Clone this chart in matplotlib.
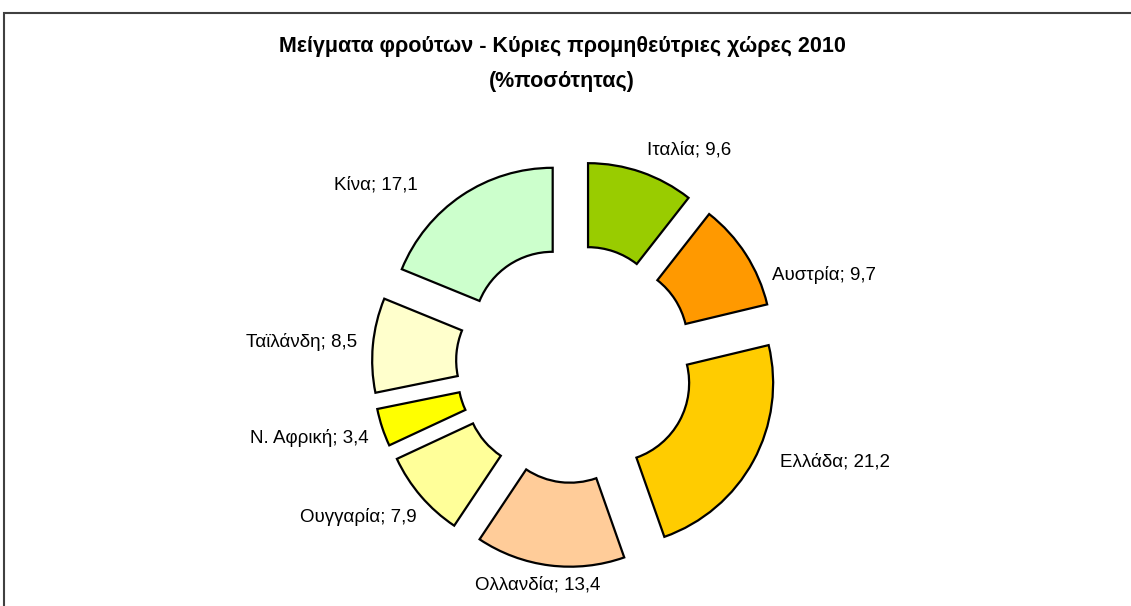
import numpy as np
import matplotlib.pyplot as plt
from matplotlib.patches import Rectangle

plt.rcParams['font.family'] = ['Liberation Sans', 'DejaVu Sans']

# δεδομένα
countries = ['Ιταλία', 'Αυστρία', 'Ελλάδα', 'Ολλανδία', 'Ουγγαρία',
             'Ν. Αφρική', 'Ταϊλάνδη', 'Κίνα']
shares = [9.6, 9.7, 21.2, 13.4, 7.9, 3.4, 8.5, 17.1]
colors = ['#99CC00', '#FF9900', '#FFCC00', '#FFCC99', '#FFFF99',
          '#FFFF00', '#FFFFCC', '#CCFFCC']

title = 'Μείγματα φρούτων - Κύριες προμηθεύτριες χώρες 2010\n(%ποσότητας)'

# διάταξη σε pixel
W, H = 1131, 606
cx, cy, R = 575, 364, 163
# θέσεις ετικετών (pixel) και στοίχιση
label_pos = [(647, 150, 'left'), (772, 275, 'left'), (780, 462, 'left'),
             (538, 585, 'center'), (417, 517, 'right'), (369, 438, 'right'),
             (357, 342, 'right'), (418, 185, 'right')]

fig = plt.figure(figsize=(W / 100, H / 100), dpi=100)
ax = fig.add_axes([0, 0, 1, 1])

ax.pie(shares, colors=colors, startangle=90, counterclock=False,
       explode=[40 / R] * len(shares), radius=1.0,
       wedgeprops=dict(width=84 / R, edgecolor='black', linewidth=1.6))

ax.set_xlim((0 - cx) / R, (W - cx) / R)
ax.set_ylim((cy - H) / R, cy / R)
ax.axis('off')

for name, v, (px, py, ha) in zip(countries, shares, label_pos):
    txt = name + '; ' + f'{v:.1f}'.replace('.', ',')
    ax.text((px - cx) / R, (cy - py) / R, txt, ha=ha, va='center', fontsize=13.5)

fig.text(562 / W, 1 - 64 / H, title, ha='center', va='center',
         fontsize=15.5, fontweight='bold', linespacing=1.85)

# πλαίσιο
fig.patches.append(Rectangle((4 / W, -0.1), 1.2, 1.1 - 13 / H,
                             transform=fig.transFigure, fill=False,
                             edgecolor='#404040', linewidth=1.5))

fig.savefig('out.png', dpi=100)
